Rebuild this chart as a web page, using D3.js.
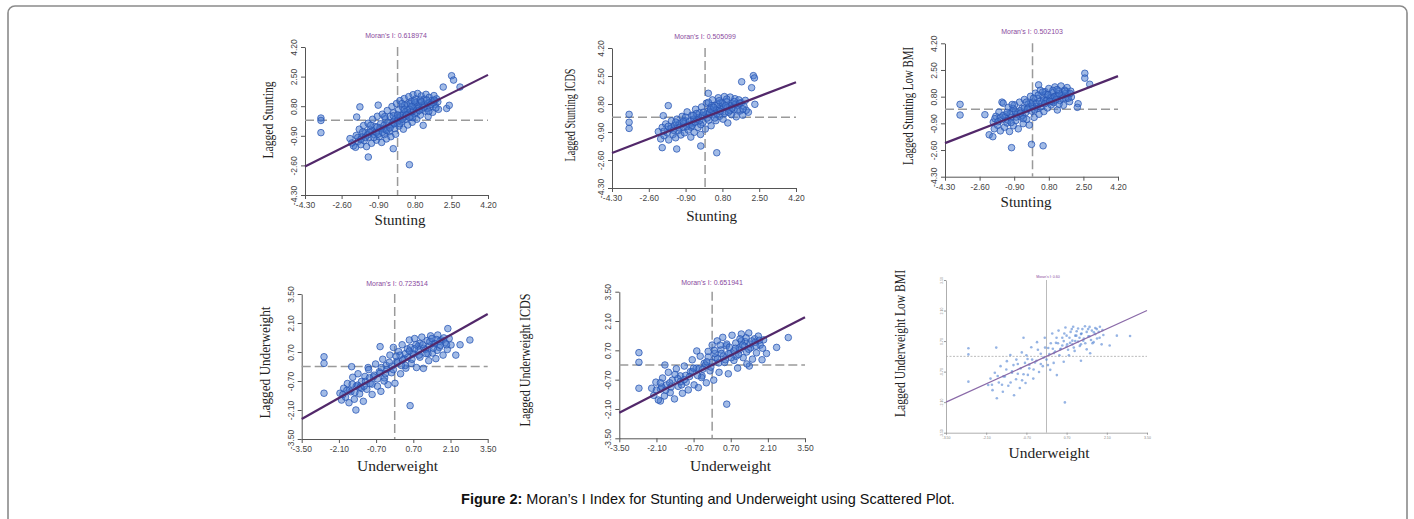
<!DOCTYPE html>
<html><head><meta charset="utf-8">
<script src="https://cdn.jsdelivr.net/npm/d3@7"></script>
<style>body{margin:0;background:#fff}svg{display:block}</style>
</head><body><svg id="c" width="1414" height="519"></svg>
<script>
// ---------- DATA ----------
const stuntingTicks = [-4.30, -2.60, -0.90, 0.80, 2.50, 4.20];
const underweightTicks = [-3.50, -2.10, -0.70, 0.70, 2.10, 3.50];
const moranI = [0.618974, 0.505099, 0.502103, 0.723514, 0.651941, 0.60];
const moranLabels = ["Moran's I: 0.618974", "Moran's I: 0.505099", "Moran's I: 0.502103", "Moran's I: 0.723514", "Moran's I: 0.651941", "Moran's I: 0.60"];
const yTitles = ["Lagged Stunting", "Lagged Stunting ICDS", "Lagged Stunting Low BMI", "Lagged Underweight", "Lagged Underweight ICDS", "Lagged Underweight  Low BMI"];
const xTitles = ["Stunting", "Stunting", "Stunting", "Underweight", "Underweight", "Underweight"];

const stuntingPoints = [
[-3.56,0.12],[-3.56,-0.02],[-3.56,-0.72],[-1.75,0.76],[-1.9,0.18],[-1.36,-2.12],[0.55,-2.56],[2.51,2.55],[2.6,2.3],[2.9,1.9],[2.12,1.9],[2.28,0.67],[-0.2,-1.64],[2.4,0.85],[-0.9,0.86],
[-2.21,-1.06],[-2.05,-1.48],[-2.12,-1.31],[-1.95,-1.56],[-1.92,-0.88],[-1.83,-1.22],[-1.78,-0.52],[-1.71,-1.41],[-1.66,-0.95],[-1.58,-0.31],[-1.55,-1.18],[-1.49,-0.72],[-1.44,-1.52],[-1.37,-0.18],[-1.33,-0.98],[-1.27,-0.55],[-1.21,-1.33],[-1.16,0.05],[-1.12,-0.81],[-1.05,-0.37],[-0.98,-1.15],[-0.94,0.22],[-0.88,-0.62],[-0.85,-0.95],[-0.79,-0.21],[-0.74,-1.28],[-0.71,0.34],[-0.66,-0.49],[-0.61,-0.83],[-0.57,0.08],[-0.52,-1.08],[-0.48,0.55],[-0.44,-0.29],[-0.39,-0.67],[-0.35,0.21],[-0.31,-0.95],[-0.26,0.78],[-0.22,-0.12],[-0.18,0.42],[-0.14,-0.48],[-0.09,-0.81],[-0.05,0.95],[-0.01,0.12],[0.04,0.58],[0.07,-0.34],[0.11,1.12],[0.15,0.28],[0.19,-0.11],[0.23,0.74],[0.27,-0.52],[0.31,1.24],[0.35,0.45],[0.39,0.05],[0.43,0.92],[0.47,-0.28],[0.52,1.35],[0.56,0.63],[0.6,0.21],[0.64,1.08],[0.68,-0.12],[0.72,1.46],[0.76,0.82],[0.8,0.38],[0.85,1.22],[0.89,0.05],[0.93,1.53],[0.97,0.67],[1.02,1.02],[1.06,0.29],[1.1,1.39],[1.15,0.85],[1.19,-0.3],[1.23,1.21],[1.28,0.52],[1.32,1.48],[1.37,0.95],[1.42,0.21],[1.47,1.31],[1.52,0.74],[1.58,1.12],[1.63,0.45],[1.69,1.41],[1.74,0.88],[1.81,1.22],[1.87,1.05],[1.9,0.62],
[-1.62,-0.68],[-1.4,-0.85],[-1.18,-0.6],[-1.0,-0.72],[-0.82,-0.45],[-0.63,-0.3],[-0.45,-0.15],[-0.28,-0.28],[-0.12,0.05],[0.02,-0.05],[0.13,0.18],[0.25,0.32],[0.37,0.2],[0.5,0.41],[0.62,0.48],[0.74,0.55],[0.86,0.72],[0.99,0.81],[1.12,0.62],[1.25,0.9],[1.38,0.68],[1.5,1.02],[1.66,0.98],[0.45,0.62],[0.58,0.95],[0.3,0.6],[-0.2,0.25],[-0.55,-0.55],[-0.95,-0.4],[0.82,1.0],[1.05,1.15],[0.7,0.15],
[-1.85,-1.0],[-1.7,-1.1],[-1.5,-1.0],[-1.3,-0.7],[-1.1,-1.0],[-0.9,-0.8],[-0.7,-0.7],[-0.5,-0.6],[-0.35,-0.45],[-0.15,-0.2],[0.0,0.3],[0.1,-0.2],[0.22,0.05],[0.33,0.85],[0.42,0.3],[0.55,0.15],[0.66,0.8],[0.78,1.1],[0.9,0.45],[1.0,0.55],[1.12,1.05],[1.22,0.75],[1.35,1.15],[1.45,0.5],[1.55,0.9],[1.7,1.15],[1.78,0.7],[0.2,0.95],[-0.6,0.2],[-1.25,-0.3]
];

const stuntingIcdsPoints = [
[-3.51,0.17],[-3.51,-0.31],[-3.51,-0.68],[-1.7,0.7],[-1.93,0.09],[-1.98,-1.85],[-1.31,-1.93],[0.54,-2.16],[2.23,2.52],[2.28,2.38],[2.15,1.79],[1.69,2.15],[2.3,0.78],[0.15,1.45],[-0.2,-1.75],[2.0,0.3],
[-2.16,-0.88],[-2.05,-1.32],[-1.98,-0.62],[-1.9,-1.12],[-1.82,-0.41],[-1.75,-0.95],[-1.68,-1.38],[-1.61,-0.7],[-1.55,-0.22],[-1.48,-1.05],[-1.42,-0.51],[-1.36,-1.25],[-1.3,-0.12],[-1.24,-0.82],[-1.18,-0.38],[-1.12,-1.08],[-1.06,0.05],[-1.0,-0.62],[-0.95,-0.95],[-0.89,-0.22],[-0.83,0.32],[-0.78,-0.78],[-0.72,-0.45],[-0.66,-1.21],[-0.61,0.12],[-0.55,-0.35],[-0.5,-0.92],[-0.44,0.48],[-0.38,-0.15],[-0.33,-0.62],[-0.27,0.25],[-0.21,-1.05],[-0.16,0.62],[-0.1,-0.32],[-0.05,0.08],[0.01,-0.72],[0.06,0.85],[0.12,0.35],[0.17,-0.18],[0.23,0.58],[0.28,-0.52],[0.34,1.05],[0.39,0.18],[0.45,0.72],[0.5,-0.21],[0.56,0.42],[0.61,1.18],[0.67,0.05],[0.72,0.88],[0.78,0.55],[0.83,-0.12],[0.89,1.25],[0.94,0.32],[1.0,0.95],[1.05,-0.35],[1.11,0.68],[1.16,1.22],[1.22,0.15],[1.27,0.85],[1.33,0.45],[1.38,1.12],[1.44,0.02],[1.5,0.72],[1.56,1.05],[1.62,0.38],[1.68,0.88],[1.74,0.12],[1.8,0.65],[1.86,1.02],[1.9,0.42],
[-1.55,-0.65],[-1.25,-0.52],[-0.98,-0.38],[-0.75,-0.25],[-0.52,-0.12],[-0.3,-0.02],[-0.12,0.12],[0.05,0.18],[0.2,0.28],[0.36,0.38],[0.52,0.45],[0.68,0.52],[0.85,0.62],[1.02,0.58],[1.2,0.72],[1.4,0.78],[0.3,0.7],[0.6,0.78],[-0.4,0.22],[-0.65,-0.6],[-0.9,0.0],[0.9,0.22],[1.15,0.4],[0.45,-0.05],[-0.2,-0.45],
[-1.9,-0.85],[-1.7,-0.55],[-1.45,-0.8],[-1.2,-0.65],[-1.0,-0.25],[-0.85,-0.55],[-0.6,-0.5],[-0.45,-0.3],[-0.25,-0.2],[-0.08,0.3],[0.1,-0.05],[0.25,0.48],[0.4,0.6],[0.55,0.2],[0.7,0.35],[0.8,0.85],[0.95,0.7],[1.08,0.3],[1.25,0.55],[1.35,0.95],[1.5,0.45],[1.6,0.85],[1.75,0.5],[0.15,0.9],[-0.55,0.1],[-1.35,-0.3],[0.65,1.0],[1.0,1.1]
];

const stuntingLowBmiPoints = [
[-3.56,0.31],[-3.56,-0.37],[-2.34,-0.35],[-2.13,-1.63],[-1.95,-1.75],[-1.03,-2.45],[-0.05,-2.24],[0.52,-2.33],[2.57,2.29],[2.57,1.98],[2.81,1.59],[2.24,0.35],[2.2,0.12],[-1.5,0.45],[0.3,1.55],
[-1.93,-0.82],[-1.88,-1.25],[-1.8,-0.45],[-1.72,-1.02],[-1.65,-0.18],[-1.58,-1.38],[-1.51,-0.68],[-1.44,0.38],[-1.38,-1.15],[-1.31,-0.35],[-1.25,-0.88],[-1.19,0.12],[-1.13,-1.42],[-1.06,-0.55],[-1.0,-0.15],[-0.94,-1.05],[-0.88,0.28],[-0.82,-0.72],[-0.76,-0.32],[-0.7,-1.25],[-0.64,0.45],[-0.58,-0.48],[-0.52,0.05],[-0.46,-0.92],[-0.4,0.62],[-0.34,-0.22],[-0.28,-0.65],[-0.22,0.32],[-0.16,-1.01],[-0.1,0.82],[-0.04,-0.12],[0.02,0.45],[0.08,-0.52],[0.14,1.02],[0.2,0.15],[0.26,0.68],[0.32,-0.32],[0.38,1.21],[0.44,0.38],[0.5,0.85],[0.56,-0.15],[0.62,1.12],[0.68,0.55],[0.74,0.08],[0.8,1.32],[0.86,0.75],[0.92,0.28],[0.98,1.05],[1.04,0.42],[1.1,1.42],[1.16,0.85],[1.22,-0.05],[1.28,1.18],[1.34,0.55],[1.4,1.48],[1.46,0.92],[1.52,0.25],[1.58,1.22],[1.64,0.68],[1.7,1.38],[1.76,0.95],[1.82,0.48],[1.88,1.15],[1.91,0.78],
[-1.6,-0.55],[-1.35,-0.5],[-1.1,-0.3],[-0.85,-0.15],[-0.62,-0.1],[-0.4,0.08],[-0.18,0.15],[0.0,0.2],[0.18,0.38],[0.36,0.5],[0.55,0.58],[0.72,0.62],[0.9,0.72],[1.08,0.78],[1.25,0.82],[1.45,0.88],[1.62,1.0],[0.65,0.95],[0.95,0.5],[0.25,0.05],[-0.5,-0.4],[-1.2,-0.7],[-0.95,0.05],[1.3,0.32],
[-1.85,-0.6],[-1.7,-0.8],[-1.45,-0.4],[-1.25,-0.2],[-1.05,-0.85],[-0.8,-0.5],[-0.6,-0.25],[-0.45,-0.6],[-0.25,0.0],[-0.08,0.4],[0.1,-0.05],[0.28,0.9],[0.4,0.15],[0.6,0.35],[0.75,0.92],[0.85,0.5],[1.0,1.2],[1.15,0.6],[1.3,1.0],[1.5,0.7],[1.6,1.15],[1.75,0.7],[1.85,1.0],[0.5,1.1],[-0.3,0.45],[-1.0,0.3],[1.2,1.25],[0.05,0.7]
];

const underweightPoints = [
[-2.66,0.47],[-2.66,0.15],[-2.66,-1.29],[-0.55,0.96],[-1.62,-0.01],[0.58,-1.89],[-1.46,-2.1],[2.83,1.28],[2.46,1.05],[2.0,1.83],[2.3,0.55],[-1.0,-0.05],
[-2.06,-1.29],[-2.0,-1.62],[-1.92,-1.05],[-1.85,-1.48],[-1.78,-0.82],[-1.72,-1.75],[-1.65,-1.22],[-1.58,-0.52],[-1.52,-1.58],[-1.45,-0.95],[-1.38,-0.35],[-1.32,-1.32],[-1.25,-0.72],[-1.18,-1.68],[-1.12,-0.48],[-1.05,-1.1],[-0.98,-0.15],[-0.92,-0.82],[-0.85,-1.35],[-0.78,-0.42],[-0.72,0.12],[-0.65,-0.95],[-0.58,-0.25],[-0.52,-1.2],[-0.45,0.35],[-0.38,-0.55],[-0.32,0.05],[-0.25,-0.88],[-0.18,0.55],[-0.12,-0.3],[-0.05,0.92],[0.01,-0.81],[0.08,0.25],[0.15,0.72],[0.22,-0.35],[0.28,1.05],[0.35,0.38],[0.42,-0.08],[0.48,0.85],[0.55,1.28],[0.62,0.15],[0.68,0.62],[0.75,1.35],[0.82,-0.05],[0.88,0.98],[0.95,0.45],[1.02,1.42],[1.08,-0.09],[1.15,0.82],[1.22,1.25],[1.28,0.28],[1.35,1.48],[1.42,0.65],[1.48,1.12],[1.55,0.38],[1.62,1.52],[1.68,0.92],[1.75,1.28],[1.82,0.55],[1.9,1.15],[1.98,0.82],[2.05,1.35],[2.12,1.04],
[-1.7,-1.15],[-1.4,-0.9],[-1.1,-0.72],[-0.8,-0.5],[-0.55,-0.32],[-0.3,-0.15],[-0.1,0.02],[0.1,0.18],[0.3,0.32],[0.5,0.45],[0.7,0.6],[0.9,0.75],[1.1,0.88],[1.3,0.98],[1.5,1.1],[1.7,1.22],[0.6,0.92],[0.95,1.12],[1.25,0.62],[0.2,0.55],[-0.4,-0.7],[-1.25,-1.05],[0.4,0.05],[1.6,0.78],
[-1.95,-1.35],[-1.8,-1.15],[-1.6,-0.85],[-1.5,-1.25],[-1.3,-1.0],[-1.15,-0.95],[-0.95,-0.55],[-0.85,-0.85],[-0.65,-0.6],[-0.5,-0.05],[-0.35,-0.35],[-0.2,0.2],[-0.05,-0.15],[0.05,0.5],[0.25,0.05],[0.4,0.62],[0.55,0.75],[0.65,0.35],[0.8,1.05],[0.92,0.55],[1.05,1.05],[1.18,0.62],[1.32,1.2],[1.45,0.88],[1.58,1.3],[1.72,1.02],[1.85,1.38],[1.95,1.05],[0.75,0.85],[1.4,1.35]
];

const underweightIcdsPoints = [
[-2.76,0.59],[-2.76,0.13],[-2.76,-1.11],[-1.78,0.0],[-0.58,0.67],[0.55,-1.87],[2.87,1.31],[2.43,0.84],[2.05,0.55],[1.4,-0.05],[-1.95,-1.72],
[-2.28,-1.11],[-2.2,-1.45],[-2.12,-0.82],[-2.03,-1.67],[-1.95,-1.15],[-1.87,-0.62],[-1.8,-1.48],[-1.72,-0.95],[-1.65,-0.35],[-1.58,-1.32],[-1.5,-0.72],[-1.42,-1.62],[-1.35,-0.18],[-1.28,-1.02],[-1.2,-0.52],[-1.12,-1.35],[-1.05,-0.05],[-0.98,-0.82],[-0.9,-1.19],[-0.82,-0.32],[-0.75,0.25],[-0.68,-0.95],[-0.6,-0.15],[-0.52,-1.08],[-0.45,0.42],[-0.38,-0.52],[-0.3,0.08],[-0.22,-0.85],[-0.15,0.65],[-0.08,-0.28],[0.0,0.95],[0.06,-0.72],[0.12,0.35],[0.19,1.15],[0.26,-0.35],[0.33,0.72],[0.4,1.32],[0.47,0.12],[0.54,0.92],[0.61,-0.42],[0.68,0.55],[0.75,1.42],[0.82,0.22],[0.89,1.05],[0.96,-0.15],[1.03,0.72],[1.1,1.48],[1.17,0.35],[1.24,1.12],[1.31,0.05],[1.38,1.53],[1.45,0.82],[1.52,0.28],[1.6,1.25],[1.67,0.58],[1.74,1.38],[1.81,0.95],[1.88,0.25],[1.94,1.2],
[-1.9,-1.05],[-1.6,-0.85],[-1.3,-0.65],[-1.0,-0.5],[-0.75,-0.32],[-0.5,-0.18],[-0.25,0.0],[0.0,0.12],[0.2,0.3],[0.42,0.42],[0.62,0.55],[0.82,0.68],[1.02,0.82],[1.22,0.9],[1.42,1.0],[1.62,1.08],[0.55,1.0],[0.9,0.42],[1.3,0.62],[0.1,0.55],[-0.4,-0.6],[-1.15,-0.95],[-0.15,0.38],[1.1,1.15],
[-2.1,-1.2],[-1.95,-0.85],[-1.75,-1.2],[-1.55,-1.05],[-1.4,-0.45],[-1.2,-0.8],[-1.05,-0.7],[-0.85,-0.55],[-0.7,-0.15],[-0.55,-0.5],[-0.35,-0.2],[-0.2,0.15],[-0.05,-0.1],[0.08,0.7],[0.25,0.1],[0.35,0.55],[0.5,0.25],[0.65,0.85],[0.72,0.35],[0.88,0.8],[1.0,0.5],[1.15,0.95],[1.28,1.3],[1.38,0.75],[1.5,1.15],[1.65,0.9],[1.78,1.18],[1.9,0.8],[0.3,0.95],[1.05,1.25]
];

const underweightLowBmiPoints = [
[-2.72,0.37],[-2.72,0.09],[-2.72,-1.16],[0.64,-2.11],[2.91,0.93],[2.45,0.95],[-1.75,0.4],[-0.8,0.85],[2.2,0.5],[1.2,-0.2],
[-2.03,-1.31],[-1.95,-1.02],[-1.88,-1.55],[-1.8,-0.75],[-1.73,-1.92],[-1.66,-1.2],[-1.6,-0.45],[-1.52,-1.62],[-1.45,-0.92],[-1.38,-0.22],[-1.33,-1.35],[-1.26,0.06],[-1.2,-0.68],[-1.13,-1.78],[-1.06,-1.05],[-1.0,-0.35],[-0.93,-1.45],[-0.86,0.18],[-0.8,-0.82],[-0.73,-1.22],[-0.66,-0.12],[-0.6,-0.55],[-0.53,0.42],[-0.46,-1.02],[-0.4,-0.28],[-0.33,0.65],[-0.26,-0.72],[-0.2,0.12],[-0.13,-0.45],[-0.06,0.85],[0.0,-0.15],[0.06,0.38],[0.13,-0.62],[0.2,1.05],[0.26,0.15],[0.33,0.62],[0.36,-0.86],[0.42,1.18],[0.48,0.32],[0.55,0.85],[0.6,-0.25],[0.66,1.32],[0.72,0.55],[0.78,0.05],[0.84,1.12],[0.9,0.72],[0.93,1.36],[0.98,0.25],[1.04,0.95],[1.1,1.28],[1.16,0.48],[1.22,1.05],[1.28,0.72],[1.34,1.38],[1.4,0.32],[1.46,0.92],[1.52,0.14],[1.58,1.18],[1.64,0.65],[1.7,1.3],[1.76,0.82],[1.82,1.12],[1.86,1.36],[1.92,0.55],[1.98,0.98],
[-1.5,-0.92],[-1.2,-0.75],[-0.9,-0.55],[-0.6,-0.38],[-0.35,-0.2],[-0.1,-0.05],[0.1,0.1],[0.3,0.22],[0.5,0.35],[0.7,0.45],[0.9,0.55],[1.1,0.68],[1.3,0.82],[1.5,0.92],[1.7,1.02],[0.8,0.85],[1.0,0.95],[1.2,1.02],[1.4,1.12],[0.6,0.7],[0.4,0.6],[0.25,-0.3],[-0.7,0.05],[-1.05,-0.15],[1.6,0.6],
[-1.9,-1.3],[-1.7,-0.9],[-1.55,-1.3],[-1.4,-0.6],[-1.25,-1.2],[-1.15,-0.4],[-1.0,-0.8],[-0.85,-1.1],[-0.75,-0.3],[-0.65,-0.85],[-0.5,-0.15],[-0.45,-0.6],[-0.3,0.3],[-0.2,-0.35],[-0.05,0.4],[0.05,-0.4],[0.15,0.6],[0.22,0.35],[0.35,0.85],[0.45,0.05],[0.55,0.5],[0.62,1.05],[0.75,0.3],[0.82,0.62],[0.88,1.25],[0.95,0.4],[1.05,1.15],[1.15,0.85],[1.25,1.25],[1.35,0.6],[1.45,1.25],[1.55,0.75],[1.65,1.1],[1.75,1.25],[1.85,0.85],[1.95,1.2],[1.0,0.7],[1.2,0.55],[0.7,0.95],[1.5,1.35]
];

const pointSets = [stuntingPoints, stuntingIcdsPoints, stuntingLowBmiPoints, underweightPoints, underweightIcdsPoints, underweightLowBmiPoints];
const tickSets = [stuntingTicks, stuntingTicks, stuntingTicks, underweightTicks, underweightTicks, underweightTicks];

// ---------- LAYOUT ----------
const layouts = [
  {x0:305, x1:488, y0:47, y1:195, yt:[268,120,77], xt:[400,225], mt:[396,37.5], small:false},
  {x0:612, x1:796, y0:48, y1:188, yt:[570,115,93], xt:[711.7,220.5], mt:[705,39], small:false},
  {x0:945, x1:1118, y0:43.3, y1:176.7, yt:[908,106,118], xt:[1026,206.5], mt:[1032,33.5], small:false},
  {x0:301.7, x1:487.7, y0:294, y1:439, yt:[265,362.5,112], xt:[397.5,470.5], mt:[397,285.5], small:false},
  {x0:619.3, x1:805, y0:291.7, y1:438.3, yt:[525,360,133], xt:[730.5,470.5], mt:[712,284.5], small:false},
  {x0:946, x1:1147, y0:280, y1:432.7, yt:[900,343.5,147], xt:[1049,457.5], mt:[1048,278], small:true}
];

const svg = d3.select("#c");
svg.append("rect").attr("x",8).attr("y",6).attr("width",1399).attr("height",560)
  .attr("rx",7).attr("fill","#fff").attr("stroke","#8a8a8a").attr("stroke-width",1.6);

const SANS = "'Liberation Sans', Arial, sans-serif";
const SERIF = "'Liberation Serif', 'Times New Roman', serif";

layouts.forEach((L, i) => {
  const ticks = tickSets[i], pts = pointSets[i], I = moranI[i];
  const g = svg.append("g");
  const xs = d3.scaleLinear().domain([ticks[0], ticks[ticks.length-1]]).range([L.x0, L.x1]);
  const ys = d3.scaleLinear().domain([ticks[0], ticks[ticks.length-1]]).range([L.y1, L.y0]);
  const axisCol = L.small ? "#999" : "#555";
  const fs = L.small ? 3.5 : 8.5;

  // axes
  const gx = g.append("g").attr("transform", `translate(0,${L.y1})`)
    .call(d3.axisBottom(xs).tickValues(ticks).tickFormat(d => d.toFixed(2)).tickSize(L.small?2:4).tickSizeOuter(0));
  const gy = g.append("g").attr("transform", `translate(${L.x0},0)`)
    .call(d3.axisLeft(ys).tickValues(ticks).tickFormat(d => d.toFixed(2)).tickSize(L.small?2:4).tickSizeOuter(0));
  [gx, gy].forEach(a => {
    a.select(".domain").attr("stroke", axisCol).attr("stroke-width", L.small?0.8:1);
    a.selectAll(".tick line").attr("stroke", axisCol);
    a.selectAll("text").attr("fill", L.small ? "#888" : "#444").style("font-family", SANS).style("font-size", fs + "px");
  });
  gx.selectAll("text").attr("y", L.small ? 4 : 7);
  gy.selectAll("text").attr("x", 0).attr("y", 0).attr("dy", 0)
    .attr("text-anchor", "middle")
    .attr("transform", `translate(${L.small ? -3.5 : -8},0) rotate(-90)`);

  // reference dashed lines at 0
  g.append("line").attr("x1", xs(0)).attr("x2", xs(0)).attr("y1", L.y0).attr("y2", L.y1)
    .attr("stroke", L.small ? "#aaa" : "#9a9a9a").attr("stroke-width", L.small ? 0.8 : 1.5)
    .attr("stroke-dasharray", L.small ? "none" : "9,4");
  g.append("line").attr("x1", L.x0).attr("x2", L.x1).attr("y1", ys(0)).attr("y2", ys(0))
    .attr("stroke", L.small ? "#aaa" : "#9a9a9a").attr("stroke-width", L.small ? 0.8 : 1.5)
    .attr("stroke-dasharray", L.small ? "2,1.5" : "9,4");

  // points
  g.append("g").selectAll("circle").data(pts).enter().append("circle")
    .attr("cx", d => xs(d[0])).attr("cy", d => ys(d[1]))
    .attr("r", L.small ? 1.3 : 3.3)
    .attr("fill", L.small ? "rgba(80,130,210,0.6)" : "rgba(70,120,205,0.5)")
    .attr("stroke", L.small ? "none" : "rgba(40,85,180,0.85)")
    .attr("stroke-width", 0.9);

  // regression line (slope = Moran's I)
  const d0 = ticks[0], d1 = ticks[ticks.length-1];
  g.append("line").attr("x1", xs(d0)).attr("y1", ys(I*d0)).attr("x2", xs(d1)).attr("y2", ys(I*d1))
    .attr("stroke", L.small ? "#8a6aa8" : "#52286a").attr("stroke-width", L.small ? 1.2 : 2.2);

  // Moran's title
  g.append("text").attr("x", L.mt[0]).attr("y", L.mt[1]).attr("text-anchor", "middle")
    .style("font-family", SANS).style("font-size", (L.small ? 3.6 : 7) + "px").attr("fill", "#8a4a9e")
    .text(moranLabels[i]);

  // y title
  g.append("text").attr("transform", `translate(${L.yt[0]+5},${L.yt[1]}) rotate(-90)`)
    .attr("text-anchor", "middle").style("font-family", SERIF).style("font-size", "15px")
    .attr("fill", "#222").attr("textLength", L.yt[2]).attr("lengthAdjust", "spacingAndGlyphs")
    .text(yTitles[i]);

  // x title
  g.append("text").attr("x", L.xt[0]).attr("y", L.xt[1]).attr("text-anchor", "middle")
    .style("font-family", SERIF).style("font-size", i >= 3 ? "15.5px" : "15px").attr("fill", "#222")
    .text(xTitles[i]);
});

// caption
const cap = svg.append("text").attr("x", 708).attr("y", 504).attr("text-anchor", "middle")
  .style("font-family", SANS).style("font-size", "14.5px").attr("fill", "#111");
cap.append("tspan").style("font-weight", "bold").text("Figure 2:");
cap.append("tspan").text(" Moran\u2019s I Index for Stunting and Underweight using Scattered Plot.");
</script>
</body></html>
